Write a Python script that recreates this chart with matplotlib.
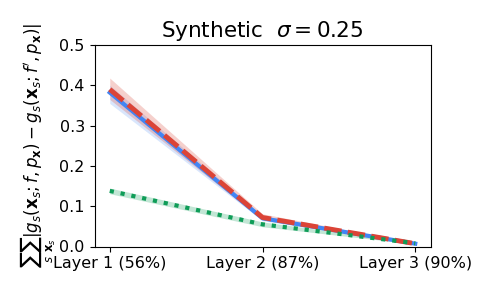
import numpy as np
import matplotlib
matplotlib.use('Agg')
import matplotlib.pyplot as plt

#------------------------------------------------------------------------------
# dati

layers = ['Layer 1 (56%)', 'Layer 2 (87%)', 'Layer 3 (90%)']

blue = [0.382, 0.070, 0.007]
blue_lo = [0.355, 0.064, 0.006]
blue_hi = [0.400, 0.076, 0.008]

red = [0.390, 0.072, 0.007]
red_lo = [0.365, 0.066, 0.006]
red_hi = [0.418, 0.081, 0.009]

green = [0.138, 0.055, 0.008]
green_lo = [0.131, 0.049, 0.006]
green_hi = [0.145, 0.061, 0.010]

c_blue = '#4285F4'
c_red = '#DB4437'
c_green = '#0F9D58'

#------------------------------------------------------------------------------

fig = plt.figure(figsize=(4.88, 2.93), dpi=100)
ax = fig.add_axes([94.5/488, (293-246.5)/293, (430.5-94.5)/488, (246.5-45)/293])

x = np.arange(len(layers))

ax.fill_between(x, blue_lo, blue_hi, color=c_blue, alpha=0.2, lw=0)
ax.fill_between(x, red_lo, red_hi, color=c_red, alpha=0.25, lw=0)
ax.fill_between(x, green_lo, green_hi, color=c_green, alpha=0.25, lw=0)

ax.plot(x, blue, color=c_blue, lw=3, ls='-')
ax.plot(x, red, color=c_red, lw=3.5, ls='--', dashes=(3.6, 1.3))
ax.plot(x, green, color=c_green, lw=3, ls=':')

ax.set_xticks(x)
ax.set_xticklabels(layers, fontsize=11.5)
ax.tick_params(axis='y', labelsize=11.5)
ax.set_ylim(0, 0.5)
ax.set_xlim(-0.1, 2.1)
ax.set_yticks([0, 0.1, 0.2, 0.3, 0.4, 0.5])

ax.set_title(r'Synthetic  $\sigma=0.25$', fontsize=15.5)
ax.set_ylabel(r'$\sum_s\sum_{\mathbf{x}_s}|g_s(\mathbf{x}_s;f,p_\mathbf{x})-g_s(\mathbf{x}_s;f^\prime,p_\mathbf{x})|$',
              fontsize=12, labelpad=1)

fig.savefig('out.png', dpi=100)
